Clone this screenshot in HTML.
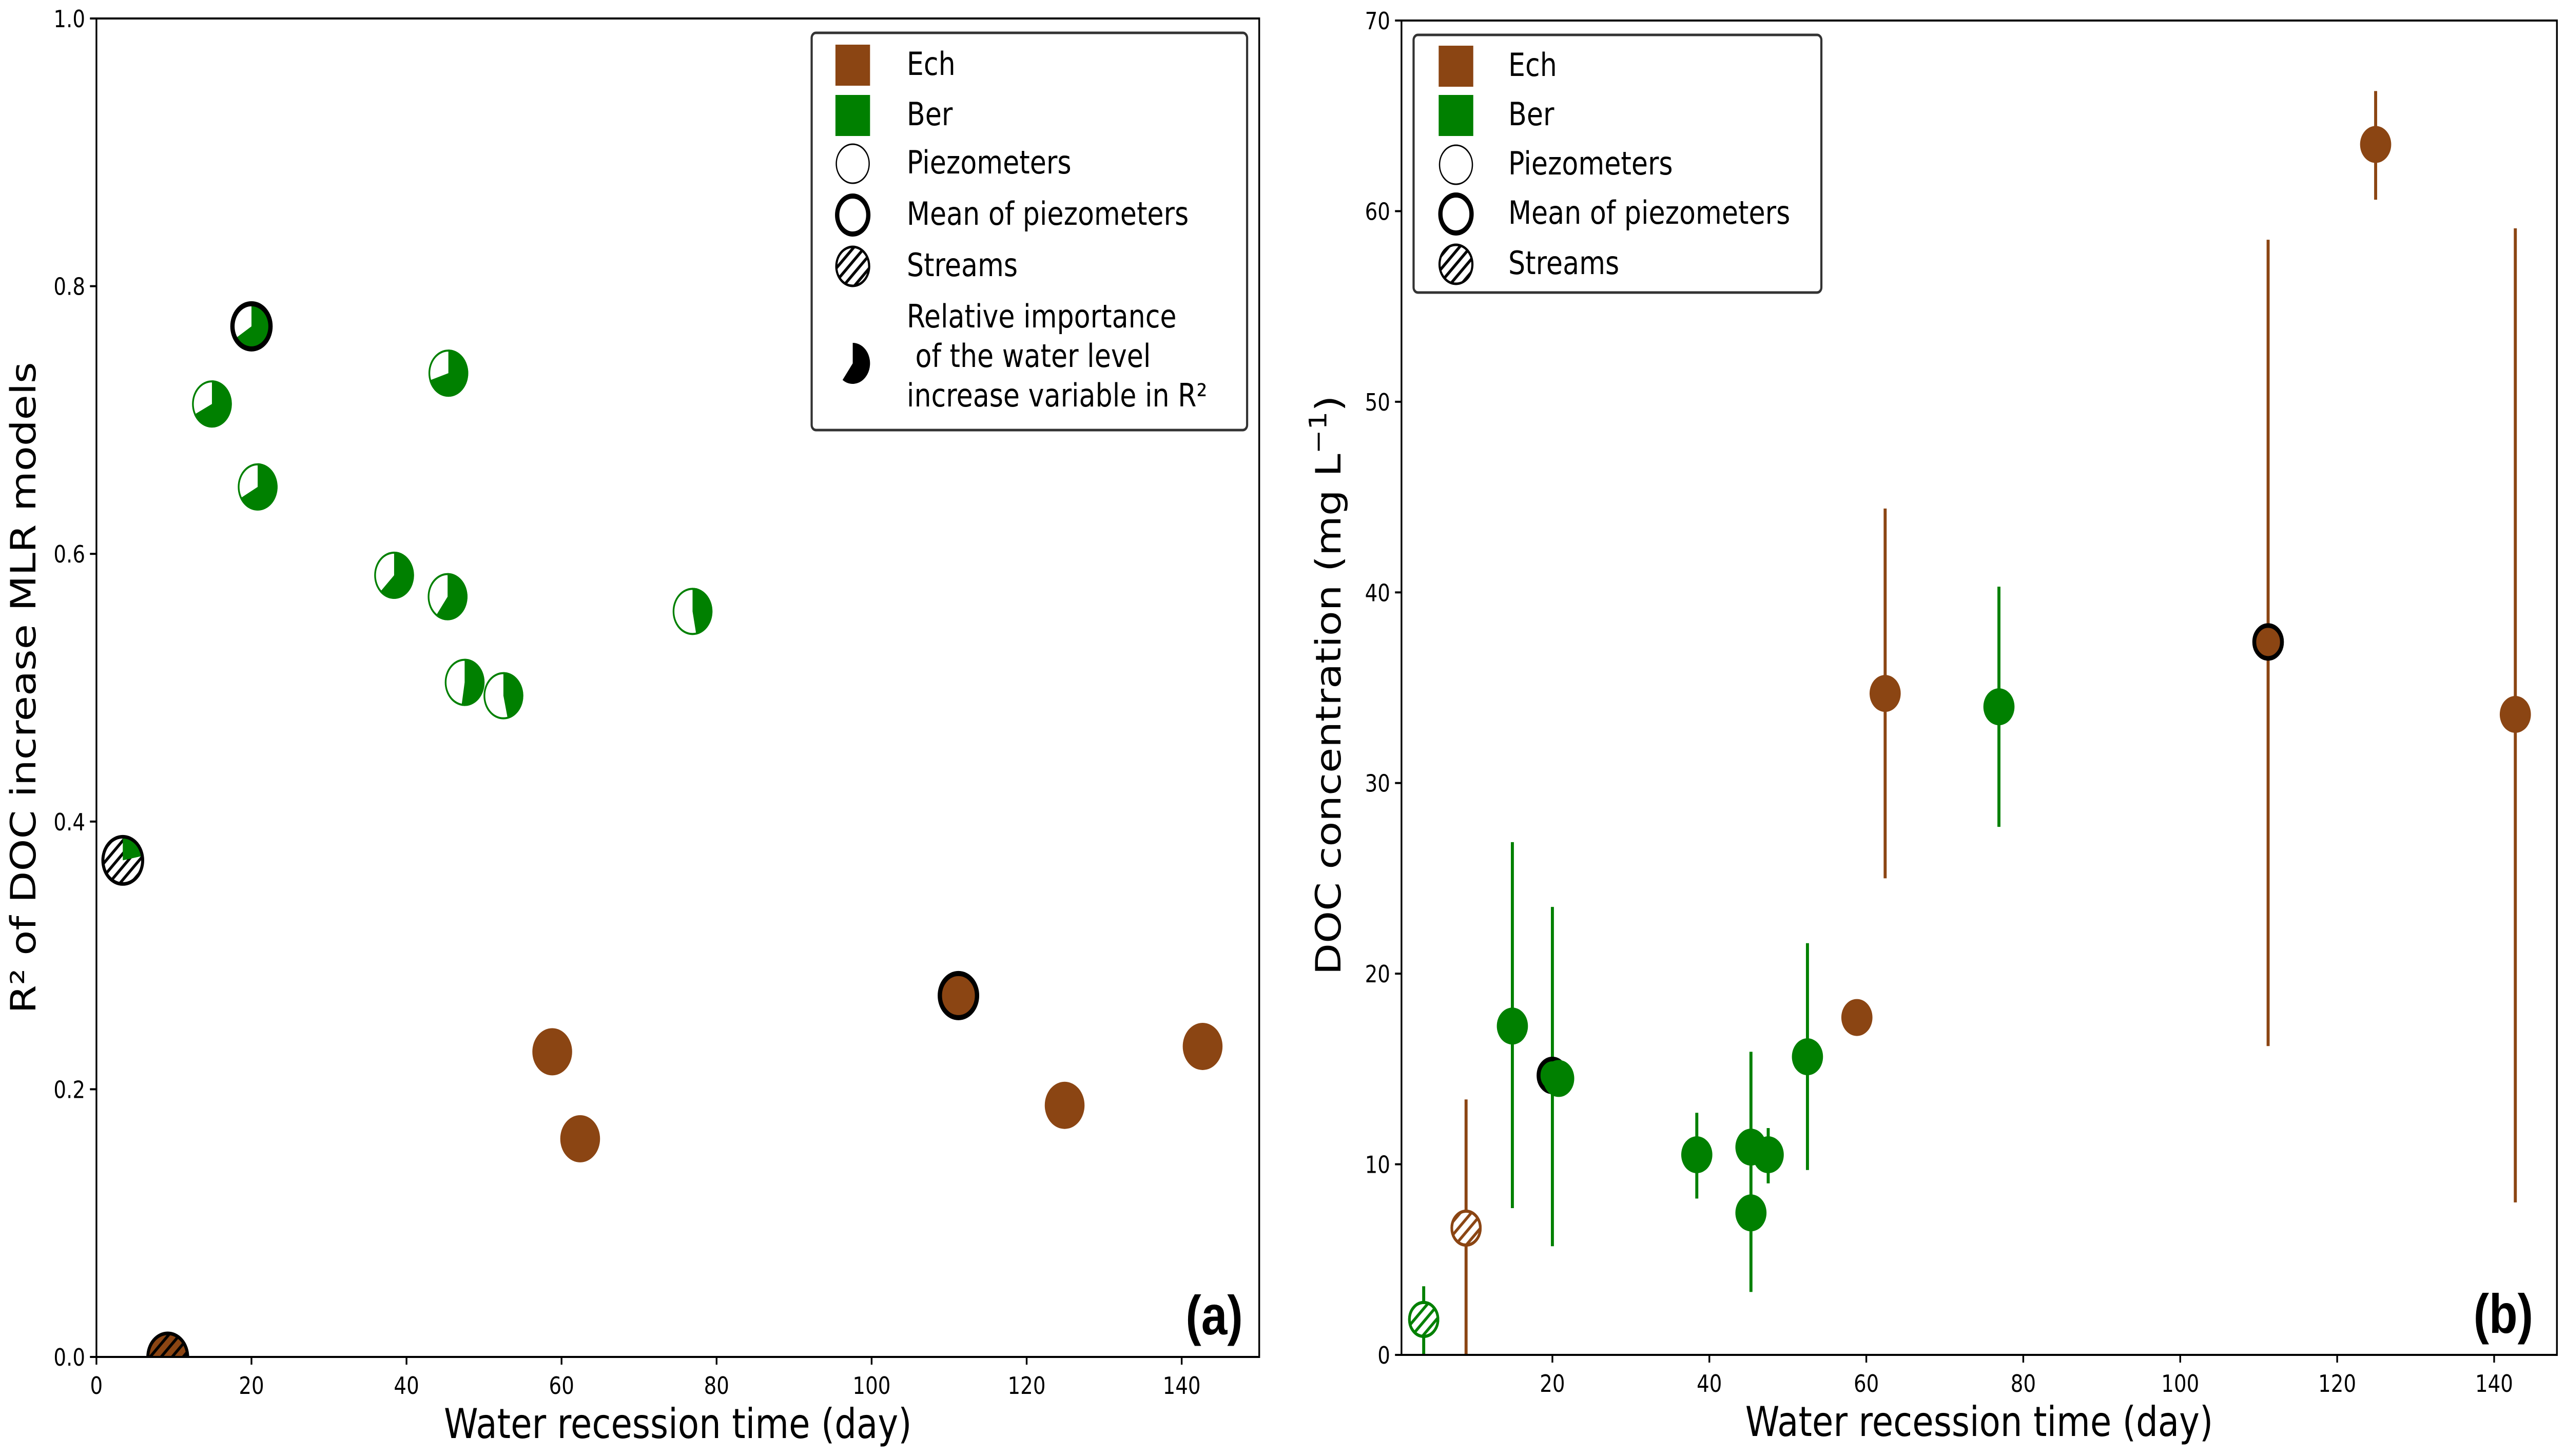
<!DOCTYPE html>
<html><head><meta charset="utf-8"><style>
html,body{margin:0;padding:0;background:#fff;overflow:hidden;width:100vw;height:100vh;}
svg{display:block;width:100vw;height:100vh;font-family:"DejaVu Sans","Liberation Sans",sans-serif;}
</style></head><body>
<svg id="fig" viewBox="0 0 5934 2837" preserveAspectRatio="none" xmlns="http://www.w3.org/2000/svg">
<defs>
<pattern id="hatchBlack" patternUnits="userSpaceOnUse" width="18" height="18" patternTransform="rotate(45)"><line x1="9" y1="0" x2="9" y2="18" stroke="#000" stroke-width="6"/></pattern>
<pattern id="hatchGreen" patternUnits="userSpaceOnUse" width="18" height="18" patternTransform="rotate(45)"><line x1="9" y1="0" x2="9" y2="18" stroke="#008000" stroke-width="6"/></pattern>
<pattern id="hatchBrown" patternUnits="userSpaceOnUse" width="18" height="18" patternTransform="rotate(45)"><line x1="9" y1="0" x2="9" y2="18" stroke="#8B4513" stroke-width="6"/></pattern>
<clipPath id="clipA"><rect x="223" y="36" width="2689" height="2608"/></clipPath>
<clipPath id="clipB"><rect x="3241" y="40" width="2672" height="2600"/></clipPath>
</defs>
<g id="panelA"></g>
<g id="panelB"></g>
</svg>
<script>
// ---------- Panel (a) data ----------
const aBerPiezoX = [14.9, 20.8, 45.4, 38.4, 45.3, 47.5, 52.5, 76.9];
const aBerPiezoY = [0.712, 0.650, 0.735, 0.584, 0.568, 0.504, 0.494, 0.557];
const aBerPiezoFrac = [0.675, 0.67, 0.70, 0.625, 0.60, 0.525, 0.465, 0.47];
const aBerMeanX = [20];
const aBerMeanY = [0.770];
const aBerMeanFrac = [0.66];
const aBerStreamX = [3.4];
const aBerStreamY = [0.371];
const aBerStreamFrac = [0.22];
const aEchStreamX = [9.2];
const aEchStreamY = [0.0];
const aEchPiezoX = [58.8, 62.4, 124.9, 142.7];
const aEchPiezoY = [0.228, 0.163, 0.188, 0.232];
const aEchMeanX = [111.2];
const aEchMeanY = [0.270];
const aXTicks = [0, 20, 40, 60, 80, 100, 120, 140];
const aYTicks = [0.0, 0.2, 0.4, 0.6, 0.8, 1.0];
const aYTickLabels = ["0.0", "0.2", "0.4", "0.6", "0.8", "1.0"];

// ---------- Panel (b) data ----------
const bBerPiezoX = [14.9, 20.8, 38.4, 45.3, 45.3, 47.5, 52.5, 76.9];
const bBerPiezoY = [17.25, 14.5, 10.5, 10.9, 7.45, 10.5, 15.64, 34.0];
const bBerPiezoLo = [7.7, null, 8.2, 3.3, null, 9.0, 9.7, 27.7];
const bBerPiezoHi = [26.9, null, 12.7, 15.9, null, 11.9, 21.6, 40.3];
const bBerMeanX = [20];
const bBerMeanY = [14.66];
const bBerMeanLo = [5.7];
const bBerMeanHi = [23.5];
const bBerStreamX = [3.6];
const bBerStreamY = [1.86];
const bBerStreamLo = [0];
const bBerStreamHi = [3.6];
const bEchPiezoX = [58.8, 62.4, 124.9, 142.7];
const bEchPiezoY = [17.7, 34.7, 63.5, 33.6];
const bEchPiezoLo = [null, 25.0, 60.6, 8.0];
const bEchPiezoHi = [null, 44.4, 66.3, 59.1];
const bEchMeanX = [111.2];
const bEchMeanY = [37.4];
const bEchMeanLo = [16.2];
const bEchMeanHi = [58.5];
const bEchStreamX = [9.0];
const bEchStreamY = [6.65];
const bEchStreamLo = [0];
const bEchStreamHi = [13.4];
const bXTicks = [20, 40, 60, 80, 100, 120, 140];
const bYTicks = [0, 10, 20, 30, 40, 50, 60, 70];

const NS = "http://www.w3.org/2000/svg";
const BROWN = "#8B4513", GREEN = "#008000";
function mk(tag, attrs, parent) {
  const e = document.createElementNS(NS, tag);
  for (const k in attrs) e.setAttribute(k, attrs[k]);
  if (parent) parent.appendChild(e);
  return e;
}
function lin(d0, d1, p0, p1) { return v => p0 + (v - d0) * (p1 - p0) / (d1 - d0); }

const A = {L: 223, R: 2912, T: 36, B: 2644};
const Bx = {L: 3241, R: 5913, T: 40, B: 2640};
const axX = lin(0, 150, A.L, A.R), axY = lin(0, 1, A.B, A.T);
const bxX = lin(0.77, 148, Bx.L, Bx.R), bxY = lin(0, 70, Bx.B, Bx.T);

function drawAxes(g, box, xs, xlab, xfn, ys, ylab, yfn, xtitle, ytitle, ytx, ytyc, panel) {
  const ax = mk("g", {}, g);
  
  
  xs.forEach((v, i) => {
    const x = xfn(v);
    mk("line", {x1: x, y1: box.B, x2: x, y2: box.B + 15, stroke: "#000", "stroke-width": 4}, ax);
    const t = mk("text", {x: x, y: box.B + 72, "font-size": 46, "text-anchor": "middle"}, ax);
    t.textContent = xlab[i];
    
    
  });
  ys.forEach((v, i) => {
    const y = yfn(v);
    mk("line", {x1: box.L - 15, y1: y, x2: box.L, y2: y, stroke: "#000", "stroke-width": 4}, ax);
    const t = mk("text", {x: box.L - 26, y: y + 17, "font-size": 46, "text-anchor": "end"}, ax);
    t.textContent = ylab[i];
    
    
  });
  const xt = mk("text", {x: (box.L + box.R) / 2, y: box.B + 158, "font-size": 80, "text-anchor": "middle"}, ax);
  xt.textContent = xtitle;
  
  
  const yt = mk("text", {x: 0, y: 0, "font-size": 80, "text-anchor": "middle", transform: "translate(" + ytx + "," + ytyc + ") rotate(-90)"}, ax);
  yt.innerHTML = ytitle;
  
  
}
function frame(g, box) {
  const r = mk("rect", {x: box.L, y: box.T, width: box.R - box.L, height: box.B - box.T, fill: "none", stroke: "#000", "stroke-width": 4}, g);
  
  
}
function wedgePath(cx, cy, r, f) {
  if (f >= 0.999) return null;
  const th = 2 * Math.PI * f;
  const ex = cx + r * Math.sin(th), ey = cy - r * Math.cos(th);
  return "M" + cx + "," + cy + " L" + cx + "," + (cy - r) + " A" + r + "," + r + " 0 " + (f > 0.5 ? 1 : 0) + " 1 " + ex + "," + ey + " Z";
}

// ---------------- Panel A ----------------
const gA = document.getElementById("panelA");
drawAxes(gA, A, aXTicks, aXTicks.map(String), axX, aYTicks, aYTickLabels, axY,
  "Water recession time (day)", "R² of DOC increase MLR models", 82, 1340, "panel-a");
const mA = mk("g", {"clip-path": "url(#clipA)"}, gA);


const RA = 46;
aEchStreamX.forEach((v, i) => {
  const cx = axX(v), cy = axY(aEchStreamY[i]);
  const g = mk("g", {}, mA);
  
  
  mk("circle", {cx, cy, r: RA, fill: BROWN}, g);
  mk("circle", {cx, cy, r: RA, fill: "url(#hatchBlack)", stroke: "#000", "stroke-width": 7}, g);
});
aBerStreamX.forEach((v, i) => {
  const cx = axX(v), cy = axY(aBerStreamY[i]);
  const g = mk("g", {}, mA);
  
  
  mk("circle", {cx, cy, r: RA, fill: "#fff"}, g);
  mk("circle", {cx, cy, r: RA, fill: "url(#hatchBlack)"}, g);
  const p = wedgePath(cx, cy, RA, aBerStreamFrac[i]);
  if (p) mk("path", {d: p, fill: GREEN}, g);
  mk("circle", {cx, cy, r: RA, fill: "none", stroke: "#000", "stroke-width": 7}, g);
});
aBerPiezoX.forEach((v, i) => {
  const cx = axX(v), cy = axY(aBerPiezoY[i]);
  const g = mk("g", {}, mA);
  
  
  mk("circle", {cx, cy, r: RA - 2, fill: "#fff", stroke: GREEN, "stroke-width": 4}, g);
  const p = wedgePath(cx, cy, RA, aBerPiezoFrac[i]);
  if (p) mk("path", {d: p, fill: GREEN}, g);
});
aBerMeanX.forEach((v, i) => {
  const cx = axX(v), cy = axY(aBerMeanY[i]);
  const g = mk("g", {}, mA);
  
  
  mk("circle", {cx, cy, r: RA, fill: "#fff"}, g);
  const p = wedgePath(cx, cy, RA, aBerMeanFrac[i]);
  if (p) mk("path", {d: p, fill: GREEN}, g);
  mk("circle", {cx, cy, r: RA - 2, fill: "none", stroke: "#000", "stroke-width": 10}, g);
});
aEchPiezoX.forEach((v, i) => {
  const c = mk("circle", {cx: axX(v), cy: axY(aEchPiezoY[i]), r: RA, fill: BROWN}, mA);
  
  
});
aEchMeanX.forEach((v, i) => {
  const c = mk("circle", {cx: axX(v), cy: axY(aEchMeanY[i]), r: RA - 3, fill: BROWN, stroke: "#000", "stroke-width": 10}, mA);
  
  
});
frame(gA, A);
const la = mk("text", {x: 2874, y: 2600, "font-size": 108, "font-weight": "bold", "text-anchor": "end", "font-family": "Liberation Sans, sans-serif"}, gA);
la.textContent = "(a)";



function legend(g, box, ix, tx, rows, extra, name) {
  const lg = mk("g", {}, g);
  
  
  mk("rect", {x: box.x, y: box.y, width: box.w, height: box.h, rx: 10, fill: "#fff", stroke: "#333", "stroke-width": 5}, lg);
  rows.forEach(r => {
    const e = mk("g", {}, lg);
    
    
    if (r.k === "sq") mk("rect", {x: ix - 40, y: r.y - 37, width: 80, height: 80, fill: r.c}, e);
    if (r.k === "pz") mk("ellipse", {cx: ix, cy: r.y + 3, rx: 38, ry: 38, fill: "#fff", stroke: "#000", "stroke-width": 3}, e);
    if (r.k === "mn") mk("ellipse", {cx: ix, cy: r.y + 3, rx: 36, ry: 37, fill: "#fff", stroke: "#000", "stroke-width": 10}, e);
    if (r.k === "st") mk("ellipse", {cx: ix, cy: r.y + 3, rx: 38, ry: 38, fill: "url(#hatchBlack)", stroke: "#000", "stroke-width": 5}, e);
    const t = mk("text", {x: tx, y: r.y + 22, "font-size": 62}, e);
    t.textContent = r.t;
  });
  if (extra) extra(lg);
}
const rowsA = [
  {k: "sq", c: BROWN, t: "Ech", y: 124}, {k: "sq", c: GREEN, t: "Ber", y: 222},
  {k: "pz", t: "Piezometers", y: 316}, {k: "mn", t: "Mean of piezometers", y: 416},
  {k: "st", t: "Streams", y: 516}];
legend(gA, {x: 1877, y: 64, w: 1007, h: 774}, 1972, 2097, rowsA, lg => {
  const e = mk("g", {}, lg);
  
  
  const p = wedgePath(1972, 708, 40, 0.6);
  mk("path", {d: p, fill: "#000"}, e);
  ["Relative importance", " of the water level", "increase variable in R²"].forEach((s, i) => {
    const t = mk("text", {x: 2097, y: 638 + i * 77, "font-size": 62}, e);
    t.setAttribute("style", "white-space:pre");
    t.textContent = s;
  });
}, "legend-a");

// ---------------- Panel B ----------------
const gB = document.getElementById("panelB");
drawAxes(gB, Bx, bXTicks, bXTicks.map(String), bxX, bYTicks, bYTicks.map(String), bxY,
  "Water recession time (day)", "DOC concentration (mg L<tspan baseline-shift='super' font-size='56'>−1</tspan>)", 3100, 1335, "panel-b");
const mB = mk("g", {"clip-path": "url(#clipB)"}, gB);


const RB = 36;
function errbar(x, lo, hi, col) {
  if (lo === null || hi === null) return;
  const l = mk("line", {x1: bxX(x), x2: bxX(x), y1: bxY(lo), y2: bxY(hi), stroke: col, "stroke-width": 7}, mB);
  
  
}
bEchStreamX.forEach((v, i) => errbar(v, bEchStreamLo[i], bEchStreamHi[i], BROWN));
bBerStreamX.forEach((v, i) => errbar(v, bBerStreamLo[i], bBerStreamHi[i], GREEN));
bBerPiezoX.forEach((v, i) => errbar(v, bBerPiezoLo[i], bBerPiezoHi[i], GREEN));
bBerMeanX.forEach((v, i) => errbar(v, bBerMeanLo[i], bBerMeanHi[i], GREEN));
bEchPiezoX.forEach((v, i) => errbar(v, bEchPiezoLo[i], bEchPiezoHi[i], BROWN));
bEchMeanX.forEach((v, i) => errbar(v, bEchMeanLo[i], bEchMeanHi[i], BROWN));

bEchStreamX.forEach((v, i) => {
  const c = mk("circle", {cx: bxX(v), cy: bxY(bEchStreamY[i]), r: RB - 3, fill: "#fff", stroke: BROWN, "stroke-width": 6}, mB);
  
  
  mk("circle", {cx: bxX(v), cy: bxY(bEchStreamY[i]), r: RB - 3, fill: "url(#hatchBrown)", stroke: BROWN, "stroke-width": 6}, mB);
});
bBerStreamX.forEach((v, i) => {
  const c = mk("circle", {cx: bxX(v), cy: bxY(bBerStreamY[i]), r: RB - 3, fill: "#fff", stroke: GREEN, "stroke-width": 6}, mB);
  
  
  mk("circle", {cx: bxX(v), cy: bxY(bBerStreamY[i]), r: RB - 3, fill: "url(#hatchGreen)", stroke: GREEN, "stroke-width": 6}, mB);
});
bBerMeanX.forEach((v, i) => {
  const c = mk("circle", {cx: bxX(v), cy: bxY(bBerMeanY[i]), r: RB - 4, fill: GREEN, stroke: "#000", "stroke-width": 9}, mB);
  
  
});
bBerPiezoX.forEach((v, i) => {
  const c = mk("circle", {cx: bxX(v), cy: bxY(bBerPiezoY[i]), r: RB, fill: GREEN}, mB);
  
  
});
bEchPiezoX.forEach((v, i) => {
  const c = mk("circle", {cx: bxX(v), cy: bxY(bEchPiezoY[i]), r: RB, fill: BROWN}, mB);
  
  
});
bEchMeanX.forEach((v, i) => {
  const c = mk("circle", {cx: bxX(v), cy: bxY(bEchMeanY[i]), r: RB - 4, fill: BROWN, stroke: "#000", "stroke-width": 9}, mB);
  
  
});
frame(gB, Bx);
const lb = mk("text", {x: 5858, y: 2597, "font-size": 108, "font-weight": "bold", "text-anchor": "end", "font-family": "Liberation Sans, sans-serif"}, gB);
lb.textContent = "(b)";


const rowsB = [
  {k: "sq", c: BROWN, t: "Ech", y: 126}, {k: "sq", c: GREEN, t: "Ber", y: 222},
  {k: "pz", t: "Piezometers", y: 318}, {k: "mn", t: "Mean of piezometers", y: 414},
  {k: "st", t: "Streams", y: 512}];
legend(gB, {x: 3269, y: 68, w: 943, h: 502}, 3367, 3488, rowsB, null, "legend-b");
</script>
</body></html>
